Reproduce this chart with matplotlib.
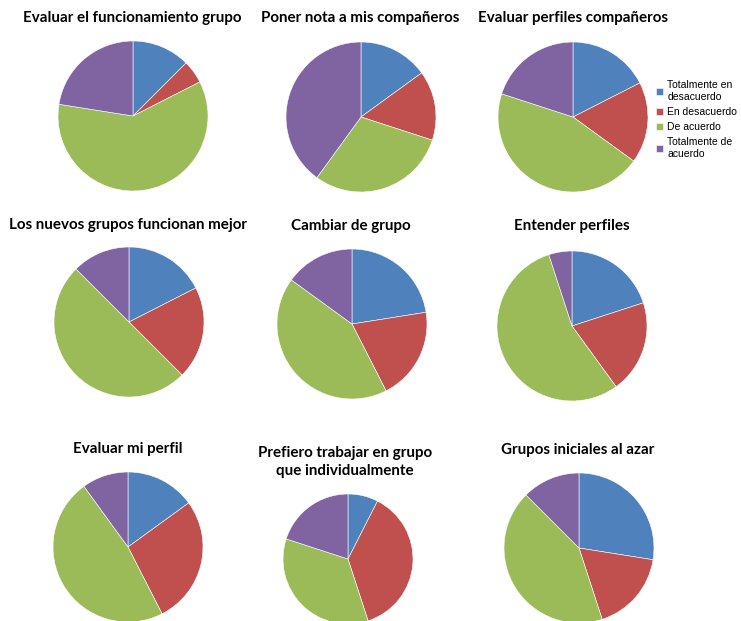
import matplotlib
matplotlib.use("Agg")
import matplotlib.pyplot as plt

W, H = 741, 621

labels = ["Totalmente en\ndesacuerdo", "En desacuerdo", "De acuerdo", "Totalmente de\nacuerdo"]
colors = ["#4F81BD", "#C0504D", "#9BBB59", "#8064A2"]

titles = [
    "Evaluar el funcionamiento grupo",
    "Poner nota a mis compañeros",
    "Evaluar perfiles compañeros",
    "Los nuevos grupos funcionan mejor",
    "Cambiar de grupo",
    "Entender perfiles",
    "Evaluar mi perfil",
    "Prefiero trabajar en grupo\nque individualmente",
    "Grupos iniciales al azar",
]

# answer counts per question: [tot. desacuerdo, desacuerdo, de acuerdo, tot. de acuerdo]
funcionamiento = [5, 2, 24, 9]
poner_nota = [6, 6, 12, 16]
perfiles_comp = [7, 7, 18, 8]
nuevos_grupos = [7, 8, 20, 5]
cambiar_grupo = [9, 8, 17, 6]
entender_perf = [8, 8, 22, 2]
mi_perfil = [6, 11, 19, 4]
trabajar_grupo = [3, 15, 14, 8]
grupos_azar = [11, 7, 17, 5]

series = [funcionamiento, poner_nota, perfiles_comp, nuevos_grupos, cambiar_grupo,
          entender_perf, mi_perfil, trabajar_grupo, grupos_azar]

# layout in pixels: pie centre, radius, title position
pie_cx = [133, 361, 573, 129, 352, 572, 128, 348, 579]
pie_cy = [116, 117, 117, 322, 324, 326, 547, 559, 548]
pie_r = [75, 75, 75, 75, 75, 75, 75, 65, 75]
title_x = [132, 360, 573, 128, 351, 572, 128, 345, 578]
title_y = [18, 18, 18, 225, 226, 226, 449, 462, 450]

fig = plt.figure(figsize=(W / 100, H / 100), dpi=100)

handles = None
for i in range(9):
    cx, cy, r = pie_cx[i], pie_cy[i], pie_r[i]
    ax = fig.add_axes([(cx - r) / W, (H - cy - r) / H, 2 * r / W, 2 * r / H])
    wedges, _ = ax.pie(series[i], colors=colors, startangle=90, counterclock=False,
                       radius=1, wedgeprops=dict(edgecolor="white", linewidth=0.4))
    ax.set_xlim(-1, 1)
    ax.set_ylim(-1, 1)
    ax.set_aspect("equal")
    ax.axis("off")
    if handles is None:
        handles = wedges
    fig.text(title_x[i] / W, 1 - title_y[i] / H, titles[i], ha="center", va="center",
             fontsize=10.9, fontweight="bold", family="Lato", linespacing=1.4)

leg = fig.legend(handles, labels, loc="upper left", bbox_to_anchor=(656 / W, 1 - 80 / H),
                 frameon=False, prop={"family": "Liberation Sans", "size": 7.5},
                 handlelength=0.7, handleheight=0.7, handletextpad=0.4,
                 labelspacing=0.5, borderaxespad=0, borderpad=0)

fig.savefig("out.png", dpi=100)
